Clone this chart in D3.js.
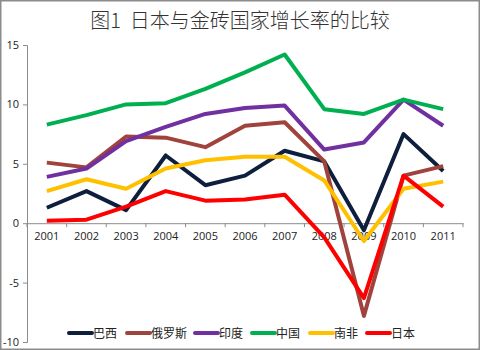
<!DOCTYPE html>
<html>
<head>
<meta charset="utf-8">
<script src="https://cdn.jsdelivr.net/npm/d3@7"></script>
<style>
  body { margin: 0; background: #fff; }
  svg text { font-family: "Open Sans", "Liberation Sans", "Noto Sans CJK SC", sans-serif; }
</style>
</head>
<body>
<script>
// data
const years = ['2001','2002','2003','2004','2005','2006','2007','2008','2009','2010','2011'];
const brazil = [1.3, 2.7, 1.1, 5.7, 3.2, 4.0, 6.1, 5.2, -0.6, 7.5, 4.4];
const russia = [5.1, 4.7, 7.3, 7.2, 6.4, 8.2, 8.5, 5.2, -7.8, 4.0, 4.8];
const india = [3.9, 4.6, 6.9, 8.1, 9.2, 9.7, 9.9, 6.2, 6.8, 10.4, 8.2];
const china = [8.3, 9.1, 10.0, 10.1, 11.3, 12.7, 14.2, 9.6, 9.2, 10.4, 9.6];
const southAfrica = [2.7, 3.7, 2.9, 4.6, 5.3, 5.6, 5.6, 3.6, -1.5, 2.9, 3.5];
const japan = [0.2, 0.3, 1.4, 2.7, 1.9, 2.0, 2.4, -1.2, -6.3, 4.0, 1.4];
const seriesNames = ['巴西','俄罗斯','印度','中国','南非','日本'];
const yTicks = [-10, -5, 0, 5, 10, 15];

const seriesData = [brazil, russia, india, china, southAfrica, japan];
const colors = ['#0e1f3d', '#a0433c', '#7030a0', '#00b050', '#ffc000', '#ff0000'];

const W = 480, H = 350;
const svg = d3.select("body").append("svg")
    .attr("width", W)
    .attr("height", H);

// outer border
svg.append("rect")
    .attr("x", 0.75).attr("y", 0.75)
    .attr("width", W - 1.5).attr("height", H - 1.5)
    .attr("fill", "#fff")
    .attr("stroke", "#8c8c8c")
    .attr("stroke-width", 1.5);

svg.append("text")
    .attr("x", 240).attr("y", 28)
    .attr("text-anchor", "middle")
    .style("font-size", "20px")
    .style("white-space", "pre")
    .style("font-family", "'Noto Sans CJK SC', sans-serif")
    .style("font-weight", "300")
    .attr("fill", "#333")
    .text("图1  日本与金砖国家增长率的比较");

const x = d3.scaleBand().domain(years).range([27, 463]);
const y = d3.scaleLinear().domain([-10, 15]).range([342, 45]);

// y axis
const yAxis = svg.append("g")
    .attr("transform", "translate(27,0)")
    .call(d3.axisLeft(y).tickValues(yTicks).tickFormat(d => String(d)).tickSize(4).tickPadding(4));
yAxis.selectAll("text").style("font-size", "11px").attr("fill", "#222");
yAxis.selectAll("line, path").attr("stroke", "#8c8c8c");

// x axis at zero
const xAxis = svg.append("g")
    .attr("transform", `translate(0,${y(0)})`)
    .call(d3.axisBottom(x).tickSize(0).tickPadding(9));
xAxis.select("path").attr("stroke", "#8c8c8c");
xAxis.selectAll("text").style("font-size", "11px").attr("fill", "#222");
// tick marks between categories
svg.append("g")
    .selectAll("line")
    .data(years.concat(['end']))
    .join("line")
    .attr("x1", (d, i) => i < years.length ? x(d) : x(years[years.length - 1]) + x.bandwidth())
    .attr("x2", (d, i) => i < years.length ? x(d) : x(years[years.length - 1]) + x.bandwidth())
    .attr("y1", y(0)).attr("y2", y(0) + 4)
    .attr("stroke", "#8c8c8c");

const line = d3.line()
    .x((d, i) => x(years[i]) + x.bandwidth() / 2)
    .y(d => y(d));

svg.append("g")
    .selectAll("path")
    .data(seriesData)
    .join("path")
    .attr("d", line)
    .attr("fill", "none")
    .attr("stroke", (d, i) => colors[i])
    .attr("stroke-width", 4)
    .attr("stroke-linejoin", "round");

// legend
const legendX = [69, 127, 195, 252, 310, 367];
const legend = svg.append("g").selectAll("g")
    .data(seriesNames)
    .join("g")
    .attr("transform", (d, i) => `translate(${legendX[i]},333)`);
legend.append("line")
    .attr("x1", 0).attr("x2", 23)
    .attr("stroke", (d, i) => colors[i])
    .attr("stroke-width", 4)
    .attr("stroke-linecap", "round");
legend.append("text")
    .attr("x", 24).attr("y", 4.5)
    .style("font-size", "12px")
    .style("font-family", "'Noto Sans CJK SC', sans-serif")
    .attr("fill", "#222")
    .text(d => d);
</script>
</body>
</html>
